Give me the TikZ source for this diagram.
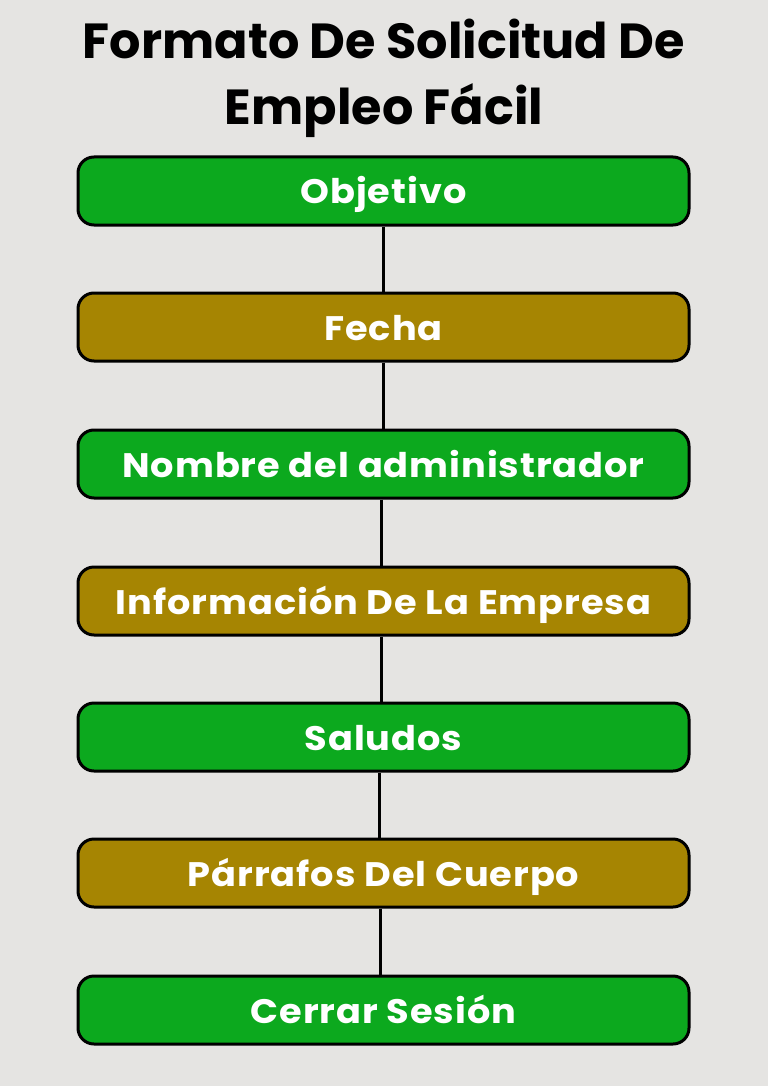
\documentclass[tikz,border=0pt]{standalone}
\usepackage{fontspec}
\usepackage{graphicx}
\setmainfont{Poppins}
\newfontfamily\boxfont{Poppins}[LetterSpace=2.6]
\newcommand{\wide}[1]{\scalebox{1.08}[1]{#1}}
\definecolor{bg}{HTML}{E5E4E2}
\definecolor{boxgreen}{HTML}{0CA91E}
\definecolor{boxolive}{HTML}{A68502}
\begin{document}
\begin{tikzpicture}[x=1pt,y=-1pt,
  stepbox/.style={draw=black,line width=3pt,rounded corners=16pt,minimum width=611pt,minimum height=68pt,inner sep=0pt,text height=26pt,text depth=0pt,text=white,font=\boxfont\bfseries\fontsize{34}{40}\selectfont},
  greenbox/.style={stepbox,fill=boxgreen},
  olivebox/.style={stepbox,fill=boxolive},
  titletext/.style={font=\bfseries\fontsize{49.3}{58}\selectfont,text=black,inner sep=0pt,anchor=base},
  link/.style={line width=3pt,draw=black}]
\fill[bg] (0,0) rectangle (768,1086);
\useasboundingbox (0,0) rectangle (768,1086);
\node[titletext] (t1) at (384,59) {Formato De Solicitud De};
\node[titletext] (t2) at (384,125) {Empleo Fácil};
\node[greenbox] (b1) at (383.5,191) {\wide{Objetivo}};
\node[olivebox] (b2) at (383.5,327) {\wide{Fecha}};
\node[greenbox] (b3) at (383.5,464) {\wide{Nombre del administrador}};
\node[olivebox] (b4) at (383.5,601) {\wide{Información De La Empresa}};
\node[greenbox] (b5) at (383.5,737) {\wide{Saludos}};
\node[olivebox] (b6) at (383.5,873) {\wide{Párrafos Del Cuerpo}};
\node[greenbox] (b7) at (383.5,1010) {\wide{Cerrar Sesión}};
\draw[link] ([xshift=-0.5pt]b1.south) -- ([xshift=-0.5pt]b2.north);
\draw[link] ([xshift=-0.5pt]b2.south) -- ([xshift=-0.5pt]b3.north);
\draw[link] ([xshift=-2.5pt]b3.south) -- ([xshift=-2.5pt]b4.north);
\draw[link] ([xshift=-2.5pt]b4.south) -- ([xshift=-2.5pt]b5.north);
\draw[link] ([xshift=-4.5pt]b5.south) -- ([xshift=-4.5pt]b6.north);
\draw[link] ([xshift=-3.5pt]b6.south) -- ([xshift=-3.5pt]b7.north);
\end{tikzpicture}
\end{document}
